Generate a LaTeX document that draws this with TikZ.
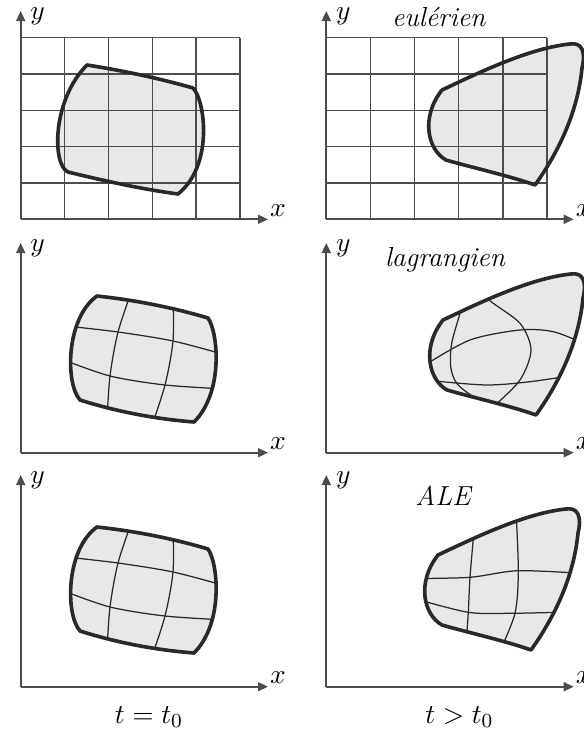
\documentclass[tikz,border=0pt]{standalone}
\usepackage{amsmath,amssymb}
\usetikzlibrary{arrows.meta}
\definecolor{axisgray}{gray}{0.3}
\definecolor{blobfill}{gray}{0.91}
\definecolor{inkgray}{gray}{0.16}

% domain outlines (pixel-like units, y pointing down)
\newcommand{\gridblob}{(87,65) .. controls (122,70.5) and (158,78) .. (193,88)
  .. controls (205,100) and (214,165) .. (178,194)
  .. controls (141,189) and (105,181) .. (68,172)
  .. controls (52,165) and (52,100) .. (87,65) -- cycle}
\newcommand{\startblob}{(97,296) .. controls (134,300) and (171,307) .. (208,318)
  .. controls (218,332) and (224,392) .. (194,422)
  .. controls (156,419) and (118,412) .. (80,400)
  .. controls (65,383) and (66,318) .. (97,296) -- cycle}
\newcommand{\laterblob}{(442,90) .. controls (480,72) and (530,48) .. (570,44)
  .. controls (582,42) and (586,52) .. (582,68)
  .. controls (578,110) and (560,150) .. (535,185)
  .. controls (510,176) and (470,167) .. (446,160)
  .. controls (428,150) and (420,118) .. (442,90) -- cycle}

\begin{document}
\begin{tikzpicture}[x=0.4pt,y=-0.4pt,font=\fontsize{11}{13}\selectfont,
  axis/.style={axisgray,line width=0.65pt,-{Triangle[length=4pt,width=3.6pt]}},
  gridline/.style={axisgray,line width=0.55pt},
  outline/.style={inkgray,line width=1.45pt,line join=round},
  meshline/.style={inkgray,line width=0.5pt},
  modelname/.style={anchor=base,font=\fontsize{11}{13}\selectfont\itshape}]
  \useasboundingbox (0,0) rectangle (584,733);

  % eulerian row
  \fill[blobfill] \gridblob;
  \fill[blobfill] \laterblob;
  \foreach \k in {0,...,5} {
    \draw[gridline] ({20.7+43.86*\k},37.7) -- ({20.7+43.86*\k},219.3);
    \draw[gridline] (20.7,{37.7+36.32*\k}) -- (240,{37.7+36.32*\k});
    \draw[gridline] ({326.3+44.14*\k},37.7) -- ({326.3+44.14*\k},219.3);
    \draw[gridline] (326.3,{37.7+36.32*\k}) -- (547,{37.7+36.32*\k});
  }
  \draw[outline] \gridblob;
  \draw[outline] \laterblob;

  % initial configuration with its mesh (lagrangian and ALE rows)
  \foreach \dy in {0,231} {
    \begin{scope}[shift={(0,\dy)}]
      \fill[blobfill] \startblob;
      \begin{scope}
        \clip \startblob;
        \draw[meshline] plot[smooth] coordinates {(66,326) (118,332) (173,341) (226,355)};
        \draw[meshline] plot[smooth] coordinates {(64,360) (110,376) (165,385) (226,389)};
        \draw[meshline] plot[smooth] coordinates {(132,290) (118,332) (110,376) (107,420)};
        \draw[meshline] plot[smooth] coordinates {(173,298) (173,341) (165,385) (151,428)};
      \end{scope}
      \draw[outline] \startblob;
    \end{scope}
  }

  % lagrangian, t > t0
  \begin{scope}[shift={(1,230)}]
    \fill[blobfill] \laterblob;
    \begin{scope}
      \clip \laterblob;
      \draw[meshline] plot[smooth] coordinates {(462,72) (459,83.3) (450.7,113.3) (449.7,136.7) (455.7,153.3) (472.3,166.7) (492,177)};
      \draw[meshline] plot[smooth] coordinates {(487,62) (489,70.7) (519,93.3) (530,120) (519,150) (492,177)};
      \draw[meshline] plot[smooth] coordinates {(424,135) (469,110) (519,100) (552.3,101.7) (584,114)};
      \draw[meshline] plot[smooth] coordinates {(434,151) (485.7,155) (529,151.7) (574,145)};
    \end{scope}
    \draw[outline] \laterblob;
  \end{scope}

  % ALE, t > t0
  \begin{scope}[shift={(-4,465)}]
    \fill[blobfill] \laterblob;
    \begin{scope}
      \clip \laterblob;
      \draw[meshline] plot[smooth] coordinates {(420,113.5) (474,112.3) (522.3,105.7) (588,108.5)};
      \draw[meshline] plot[smooth] coordinates {(420,134) (472.3,147.3) (514,148.3) (574,147)};
      \draw[meshline] plot[smooth] coordinates {(478,66) (474,112.3) (472.3,147.3) (470,180)};
      \draw[meshline] plot[smooth] coordinates {(520,46) (522.3,105.7) (519,148.3) (503,188)};
    \end{scope}
    \draw[outline] \laterblob;
  \end{scope}

  % axes
  \foreach \ox/\oy/\tip/\xend [count=\i] in {20.7/219.3/11/268, 326.3/219.3/11/573.7,
      20.7/452.7/243/268, 326.3/452.7/243/573.7, 20.7/686.7/475/268, 326.3/686.7/475/573.7} {
    \coordinate (orig\i) at (\ox,\oy);
    \coordinate (ytip\i) at (\ox,\tip);
    \coordinate (xtip\i) at (\xend,\oy);
    \draw[axis] (orig\i) -- (ytip\i);
    \draw[axis] (orig\i) -- (xtip\i);
    \node[inner sep=0] (ylab\i) at ({\ox+17},{\tip+5}) {$y$};
    \node[inner sep=0] (xlab\i) at ({\xend+10},{\oy-9}) {$x$};
  }

  \node[modelname] (euler) at (438.7,26.5) {eulérien};
  \node[modelname] (lagrange) at (445,266) {lagrangien};
  \node[modelname] (ale) at (443,505) {ALE};
  \node[anchor=base] (tstart) at (149,723) {$t = t_{0}$};
  \node[anchor=base] (tlater) at (459.5,723) {$t > t_{0}$};
\end{tikzpicture}
\end{document}
